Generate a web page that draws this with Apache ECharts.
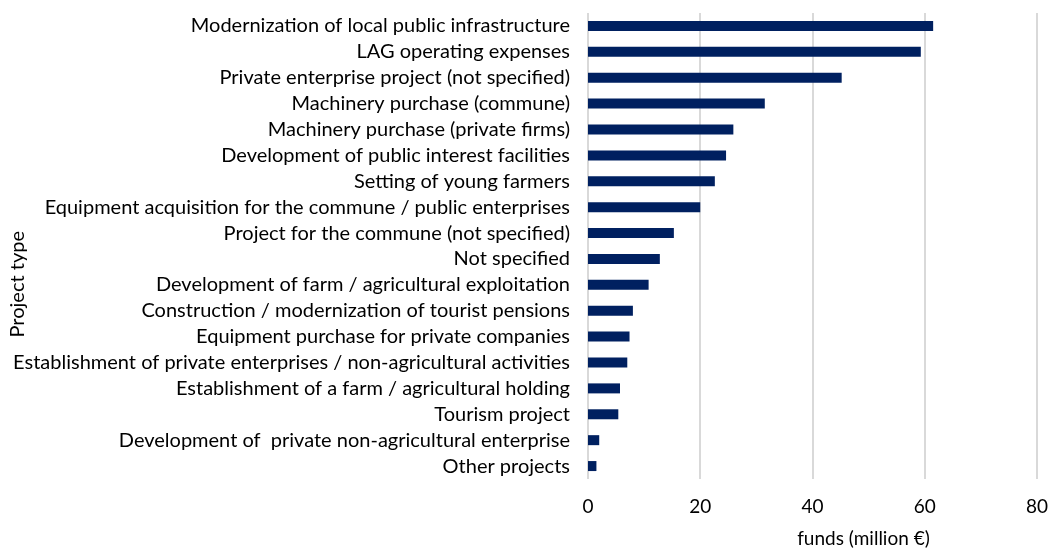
<!DOCTYPE html>
<html lang="en">
<head>
    <meta charset="UTF-8">
    <title>Project type funds</title>
    <script src="https://cdn.jsdelivr.net/npm/echarts@6/dist/echarts.min.js"></script>
    <style>
        body {
            margin: 0;
            padding: 0;
            overflow: hidden;
            background: #fff;
        }
        #chart {
            width: 1051px;
            height: 553px;
        }
    </style>
</head>
<body>
<div id="chart"></div>
<script>
    // categories from top to bottom
    const projectTypes = [
        'Modernization of local public infrastructure',
        'LAG operating expenses',
        'Private enterprise project (not specified)',
        'Machinery purchase (commune)',
        'Machinery purchase (private firms)',
        'Development of public interest facilities',
        'Setting of young farmers',
        'Equipment acquisition for the commune / public enterprises',
        'Project for the commune (not specified)',
        'Not specified',
        'Development of farm / agricultural exploitation',
        'Construction / modernization of tourist pensions',
        'Equipment purchase for private companies',
        'Establishment of private enterprises / non-agricultural activities',
        'Establishment of a farm / agricultural holding',
        'Tourism project',
        'Development of  private non-agricultural enterprise',
        'Other projects'
    ];
    // million €
    const funds = [61.5, 59.3, 45.2, 31.5, 25.9, 24.6, 22.6, 20.0, 15.3, 12.8, 10.8, 8.0, 7.4, 7.0, 5.7, 5.4, 2.0, 1.5];
    const xTicks = [0, 20, 40, 60, 80];

    const font = 'Lato, "Open Sans", sans-serif';

    function createChart() {
        const chart = echarts.init(document.getElementById('chart'));
        chart.setOption({
            animation: false,
            textStyle: { fontFamily: font },
            grid: { left: 588, right: 13, top: 13, bottom: 68, containLabel: false },
            xAxis: {
                type: 'value',
                min: xTicks[0],
                max: xTicks[xTicks.length - 1],
                interval: 20,
                axisLine: { show: false },
                axisTick: { show: false },
                axisLabel: { fontSize: 19, color: '#000', margin: 18 },
                splitLine: { lineStyle: { color: '#d9d9d9', width: 2 } },
                name: 'funds (million €)',
                nameLocation: 'middle',
                nameGap: 50,
                nameTextStyle: { fontSize: 19, color: '#000', padding: [0, 0, 0, 102] }
            },
            yAxis: {
                type: 'category',
                inverse: true,
                data: projectTypes,
                axisLine: { show: false },
                axisTick: { show: false },
                axisLabel: { fontSize: 20, color: '#000', margin: 18, interval: 0 }
            },
            graphic: [{
                type: 'text',
                left: 8,
                top: 231,
                rotation: Math.PI / 2,
                style: { text: 'Project type', font: '20px ' + font, fill: '#000' }
            }],
            series: [{
                type: 'bar',
                data: funds,
                barWidth: 10,
                itemStyle: { color: '#002060' }
            }]
        });
        return chart;
    }

    window.onload = function () {
        createChart();
    };
</script>
</html>
